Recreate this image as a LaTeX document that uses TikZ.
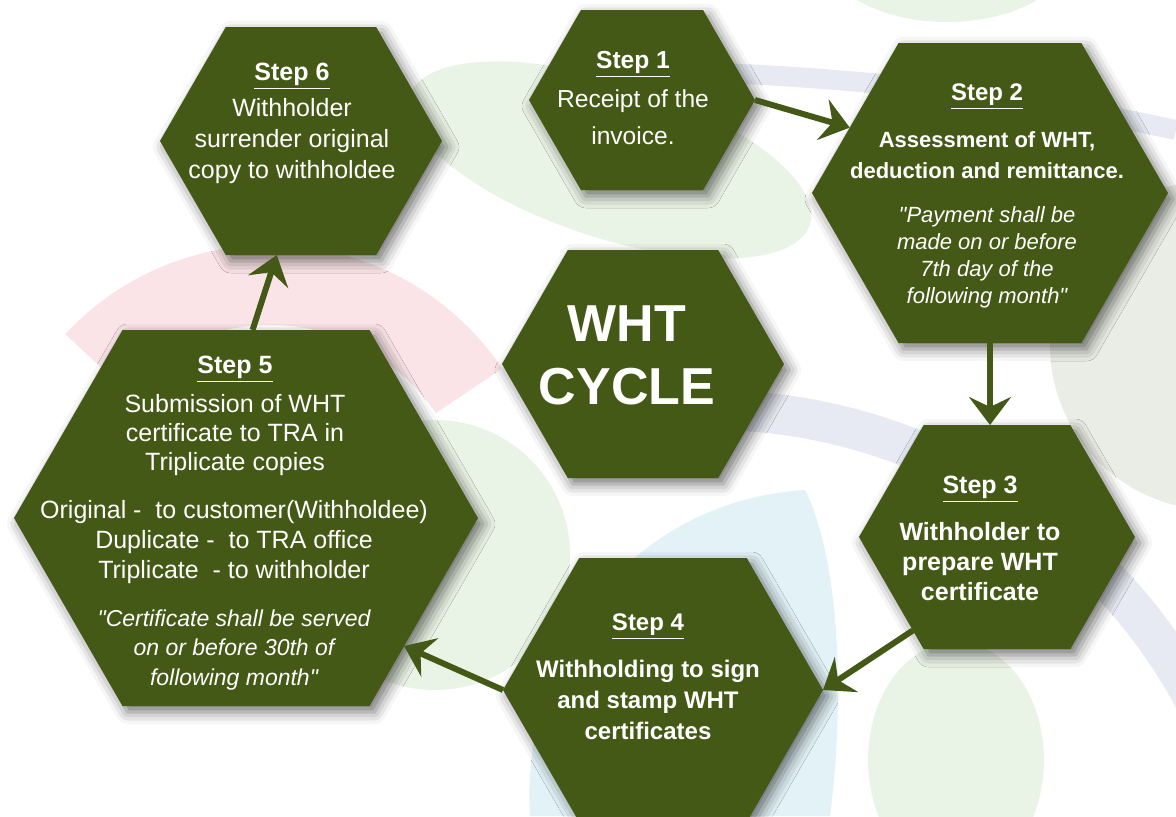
\documentclass[tikz,border=0pt]{standalone}
\usepackage{fontspec}
\setmainfont{Liberation Sans}[Ligatures=TeXOff]
\usetikzlibrary{shapes.symbols,arrows.meta,shadows.blur}
\definecolor{hexgreen}{RGB}{67,89,21}
\definecolor{bgpink}{RGB}{250,228,231}
\definecolor{bggreen}{RGB}{234,244,230}
\definecolor{bgblue}{RGB}{226,242,247}
\definecolor{bglav}{RGB}{232,234,243}
\definecolor{bggrey}{RGB}{234,237,229}
\newcommand{\stephd}[1]{\textbf{\underline{#1}}}
\tikzset{
  hexa/.style={shape=signal, signal to=east and west, signal pointer angle=120,
    fill=hexgreen, inner sep=0pt, outer sep=0pt,
    blur shadow={shadow xshift=2.5pt, shadow yshift=-3pt, shadow blur radius=6pt, shadow opacity=55}},
  hextxt/.style={text=white, align=center},
  flow/.style={draw=hexgreen, line width=3pt, -{Stealth[length=14pt,width=21pt,inset=5pt]}}
}
\begin{document}
\begin{tikzpicture}[x=0.5pt, y=-0.5pt]
\useasboundingbox (0,0) rectangle (1176,816);
\clip (0,0) rectangle (1176,816);
% faint leaves behind
\fill[bggreen, rotate around={-18:(610,160)}] (610,160) ellipse [x radius=210, y radius=78];
\fill[bggreen] (947,-50) ellipse [x radius=125, y radius=72];
\fill[bggrey] (1215,345) circle [radius=165];
\fill[bggreen] (435,555) circle [radius=135];
\fill[bgpink] ([shift={(270,525)}]-137:280) arc[start angle=-137, end angle=-34, radius=280]
  -- ([shift={(270,525)}]-34:200) arc[start angle=-34, end angle=-137, radius=200] -- cycle;
\fill[bgblue] (805,490) .. controls (640,500) and (520,640) .. (530,816) -- (830,816)
  .. controls (845,700) and (840,560) .. (805,490) -- cycle;
\fill[bglav] ([shift={(710,960)}]-97:570) arc[start angle=-97, end angle=-22, radius=570]
  -- ([shift={(710,960)}]-22:530) arc[start angle=-22, end angle=-97, radius=530] -- cycle;
\draw[bglav, line width=10pt] (700,72) .. controls (850,78) and (1000,92) .. (1176,130);
\fill[bggreen] (956,760) ellipse [x radius=88, y radius=118];
% hexagons
\node[hexa, minimum width=113pt, minimum height=90pt] (s1) at (642,100) {};
\node[hexa, minimum width=178pt, minimum height=150pt] (s2) at (990,193) {};
\node[hexa, minimum width=138pt, minimum height=112pt] (s3) at (997,537) {};
\node[hexa, minimum width=160pt, minimum height=132pt] (s4) at (663,690) {};
\node[hexa, minimum width=232pt, minimum height=188pt] (s5) at (246,518) {};
\node[hexa, minimum width=141pt, minimum height=114pt] (s6) at (301,141) {};
\node[hexa, minimum width=141pt, minimum height=114pt] (cyc) at (643,364) {};
% texts
\node[hextxt, font=\fontsize{12.3}{18.5}\selectfont] (t1) at (633,98)
  {\stephd{Step 1}\\[1pt] Receipt of the\\ invoice.};
\node[hextxt, font=\fontsize{11}{15.5}\selectfont\bfseries] (t2a) at (987,131)
  {{\fontsize{12}{15.5}\selectfont\stephd{Step 2}}\\[8pt] Assessment of WHT,\\ deduction and remittance.};
\node[hextxt, font=\fontsize{11}{13.5}\selectfont\itshape] (t2b) at (987,257)
  {"Payment shall be\\ made on or before\\ 7th day of the\\ following month"};
\node[hextxt, font=\fontsize{12.5}{15}\selectfont\bfseries] (t3) at (980,538)
  {\stephd{Step 3}\\[8.5pt] Withholder to\\ prepare WHT\\ certificate};
\node[hextxt, font=\fontsize{12}{15.5}\selectfont\bfseries] (t4) at (648,677)
  {\stephd{Step 4}\\[8pt] Withholding to sign\\ and stamp WHT\\ certificates};
\node[hextxt, font=\fontsize{12.5}{14.5}\selectfont] (t5a) at (235,416)
  {\stephd{Step 5}\\[5pt] Submission of WHT\\ certificate to TRA in\\ Triplicate copies};
\node[hextxt, font=\fontsize{12.5}{15}\selectfont] (t5b) at (234,542)
  {Original -~ to customer(Withholdee)\\ Duplicate -~ to TRA office\\ Triplicate~ - to withholder};
\node[hextxt, font=\fontsize{11.5}{14.75}\selectfont\itshape] (t5c) at (234,650)
  {"Certificate shall be served\\ on or before 30th of\\ following month"};
\node[hextxt, font=\fontsize{12.5}{15.5}\selectfont] (t6) at (292,123)
  {\stephd{Step 6}\\[2.5pt] Withholder\\ surrender original\\ copy to withholdee};
\node[hextxt, font=\fontsize{26}{31.5}\selectfont\bfseries] (tc) at (627,355) {WHT\\ CYCLE};
% arrows
\draw[flow] (s1.east) -- (s2.155);
\draw[flow] (s2.south) -- (s2.south |- s3.north);
\draw[flow] (s3.228) -- (s4.east);
\draw[flow] (s4.west) -- (s5.-39);
\draw[flow] (s5.88) -- (s6.-102);
\end{tikzpicture}
\end{document}
